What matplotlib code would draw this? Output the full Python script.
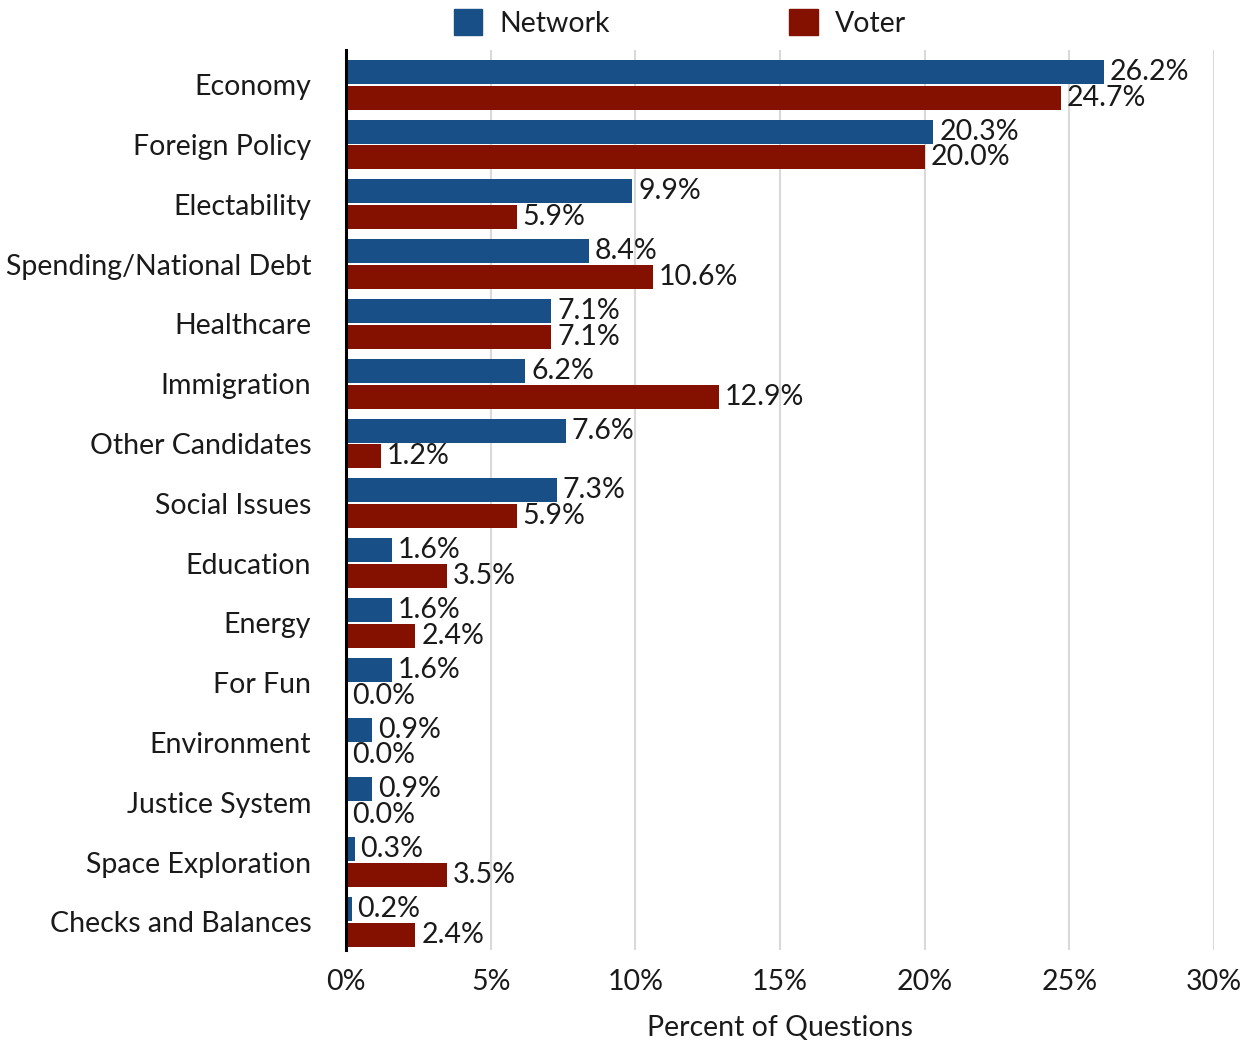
import matplotlib
matplotlib.use("Agg")
import matplotlib.pyplot as plt
import numpy as np
from matplotlib.patches import Patch

categories = ["Economy", "Foreign Policy", "Electability", "Spending/National Debt",
              "Healthcare", "Immigration", "Other Candidates", "Social Issues",
              "Education", "Energy", "For Fun", "Environment", "Justice System",
              "Space Exploration", "Checks and Balances"]
network = [26.2, 20.3, 9.9, 8.4, 7.1, 6.2, 7.6, 7.3, 1.6, 1.6, 1.6, 0.9, 0.9, 0.3, 0.2]
voter = [24.7, 20.0, 5.9, 10.6, 7.1, 12.9, 1.2, 5.9, 3.5, 2.4, 0.0, 0.0, 0.0, 3.5, 2.4]
xticks = [0, 5, 10, 15, 20, 25, 30]
xtick_labels = ["0%", "5%", "10%", "15%", "20%", "25%", "30%"]

plt.rcParams['font.family'] = ['Lato', 'DejaVu Sans']
BLUE = "#184f87"
RED = "#841100"
TXT = "#1a1a1a"
FS = 20.5

fig = plt.figure(figsize=(12.48, 10.44), dpi=100)
W, H = 1248, 1044
ax = fig.add_axes([346 / W, 1 - 950 / H, (1214 - 346) / W, 900 / H])

y = np.arange(len(categories))
h = 0.4
off = 0.215
ax.barh(y - off, network, height=h, color=BLUE, zorder=3)
ax.barh(y + off, voter, height=h, color=RED, zorder=3)

for yi, v in zip(y, network):
    ax.text(v + 0.2, yi - off, f"{v:.1f}%", va="center", ha="left", fontsize=FS,
            color=TXT, zorder=4)
for yi, v in zip(y, voter):
    ax.text(v + 0.2, yi + off, f"{v:.1f}%", va="center", ha="left", fontsize=FS,
            color=TXT, zorder=4)

ax.set_ylim(len(categories) - 1 + 0.47, -0.58)
ax.set_xlim(0, 30)
ax.set_yticks(y)
ax.set_yticklabels(categories, fontsize=FS, color=TXT)
ax.set_xticks(xticks)
ax.set_xticklabels(xtick_labels, fontsize=FS, color=TXT)
ax.tick_params(axis="y", length=0, pad=25)
ax.tick_params(axis="x", length=0, pad=14)
ax.grid(axis="x", color="#d9d9d9", linewidth=1.5, zorder=0)
for s in ["top", "right", "bottom"]:
    ax.spines[s].set_visible(False)
ax.spines["left"].set_linewidth(2.2)
ax.spines["left"].set_color("black")
ax.spines["left"].set_zorder(5)
ax.set_xlabel("Percent of Questions", fontsize=FS, labelpad=14, color=TXT)

handles = [Patch(color=BLUE, label="Network"), Patch(color=RED, label="Voter")]
leg = fig.legend(handles=handles, loc="center", bbox_to_anchor=(680 / W, 1 - 23 / H), ncol=2,
                 frameon=False, handlelength=1.0, handleheight=1.0,
                 handletextpad=0.6, columnspacing=6.3, prop={"size": FS})
for t in leg.get_texts():
    t.set_color(TXT)

fig.savefig("out.png", dpi=100)
